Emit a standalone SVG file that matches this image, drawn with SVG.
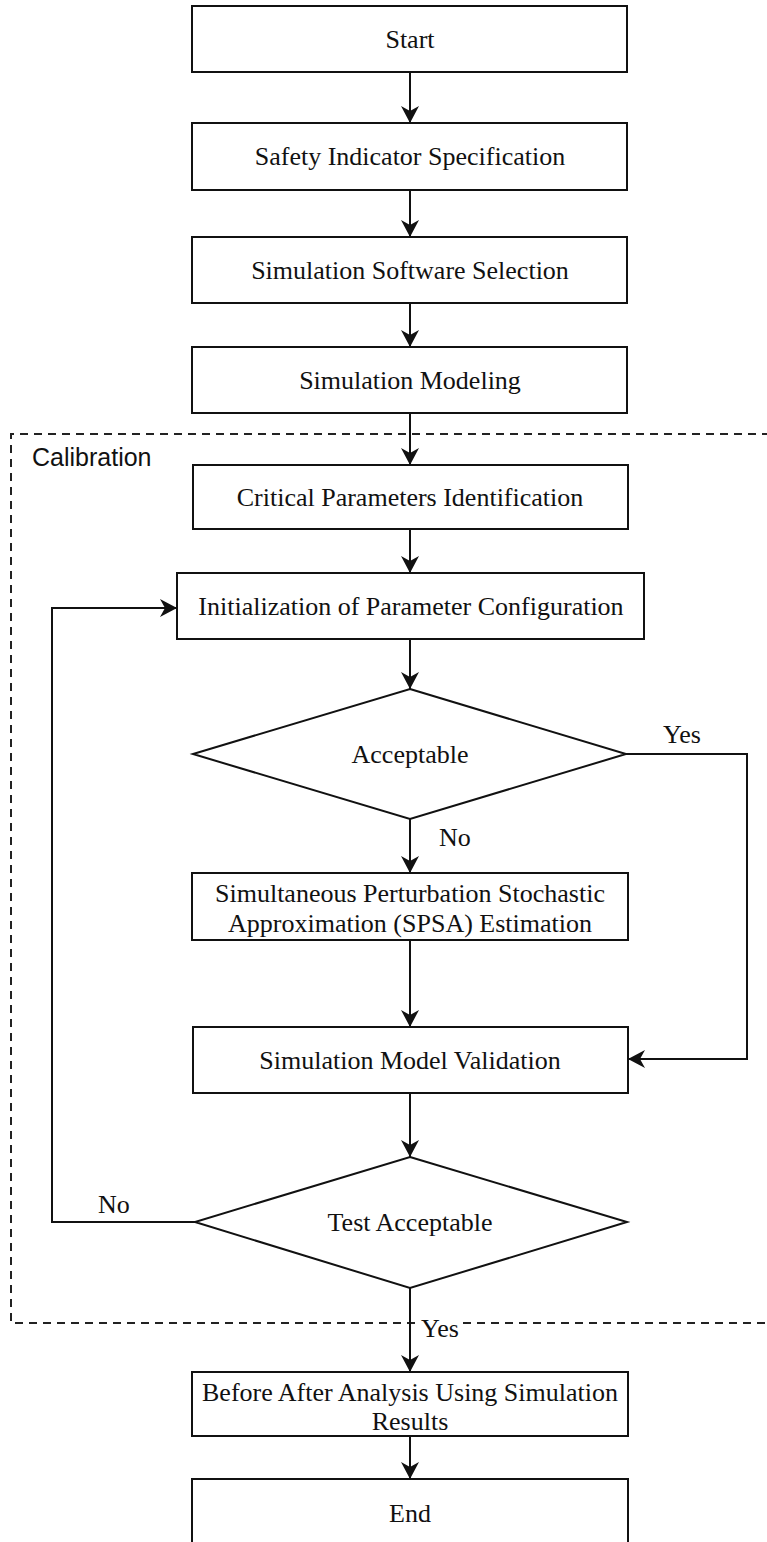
<svg xmlns="http://www.w3.org/2000/svg" width="767" height="1542" viewBox="0 0 767 1542">
  <style>
    .box { fill: #ffffff; stroke: #111111; stroke-width: 2; }
    .lbl { font-family: "Liberation Serif", "Times New Roman", serif; font-size: 26px; fill: #111111; text-anchor: middle; }
    .tag { font-family: "Liberation Serif", "Times New Roman", serif; font-size: 26px; fill: #111111; }
    .edge { fill: none; stroke: #111111; stroke-width: 2; }
    .group { fill: none; stroke: #222222; stroke-width: 2; stroke-dasharray: 8 6; }
    .grouplbl { font-family: "Liberation Sans", Arial, sans-serif; font-size: 25px; fill: #111111; }
  </style>
  <defs>
    <marker id="arrow" markerUnits="userSpaceOnUse" markerWidth="20" markerHeight="20" refX="17" refY="10" orient="auto">
      <path d="M17,10 L0,1 L5,10 L0,19 Z" fill="#111111"/>
    </marker>
  </defs>

  <rect width="767" height="1542" fill="#ffffff"/>

  <!-- calibration group frame -->
  <g id="calibration">
    <path class="group" d="M770,434 H11 V1323 H770"/>
    <text class="grouplbl" x="32" y="466">Calibration</text>
  </g>

  <!-- connectors -->
  <g id="connectors">
    <path class="edge" d="M410,72 V123" marker-end="url(#arrow)"/>
    <path class="edge" d="M410,190 V237" marker-end="url(#arrow)"/>
    <path class="edge" d="M410,303 V347" marker-end="url(#arrow)"/>
    <path class="edge" d="M410,413 V465" marker-end="url(#arrow)"/>
    <path class="edge" d="M410,529 V573" marker-end="url(#arrow)"/>
    <path class="edge" d="M410,639 V689" marker-end="url(#arrow)"/>
    <path class="edge" d="M410,819 V873" marker-end="url(#arrow)"/>
    <path class="edge" d="M626,754 H747 V1059 H628" marker-end="url(#arrow)"/>
    <path class="edge" d="M410,940 V1027" marker-end="url(#arrow)"/>
    <path class="edge" d="M410,1093 V1157" marker-end="url(#arrow)"/>
    <path class="edge" d="M195,1222 H52 V608 H177" marker-end="url(#arrow)"/>
    <path class="edge" d="M410,1288 V1372" marker-end="url(#arrow)"/>
    <path class="edge" d="M410,1436 V1479" marker-end="url(#arrow)"/>
    <text class="tag" x="663" y="743">Yes</text>
    <text class="tag" x="439" y="846">No</text>
    <text class="tag" x="98" y="1213">No</text>
    <rect x="419" y="1316" width="40" height="24" fill="#ffffff"/>
    <text class="tag" x="421" y="1337">Yes</text>
  </g>

  <g id="start">
    <rect class="box" x="192" y="6" width="435" height="66"/>
    <text class="lbl" x="410" y="48">Start</text>
  </g>

  <g id="safety-indicator">
    <rect class="box" x="192" y="123" width="435" height="67"/>
    <text class="lbl" x="410" y="165">Safety Indicator Specification</text>
  </g>

  <g id="software-selection">
    <rect class="box" x="192" y="237" width="435" height="66"/>
    <text class="lbl" x="410" y="279">Simulation Software Selection</text>
  </g>

  <g id="modeling">
    <rect class="box" x="192" y="347" width="435" height="66"/>
    <text class="lbl" x="410" y="389">Simulation Modeling</text>
  </g>

  <g id="critical-parameters">
    <rect class="box" x="193" y="465" width="435" height="64"/>
    <text class="lbl" x="410" y="506">Critical Parameters Identification</text>
  </g>

  <g id="initialization">
    <rect class="box" x="177" y="573" width="467" height="66"/>
    <text class="lbl" x="411" y="615">Initialization of Parameter Configuration</text>
  </g>

  <g id="acceptable">
    <polygon class="box" points="410,689 626,754 410,819 193,754"/>
    <text class="lbl" x="410" y="763">Acceptable</text>
  </g>

  <g id="spsa">
    <rect class="box" x="192" y="873" width="436" height="67"/>
    <text class="lbl" x="410" y="902">Simultaneous Perturbation Stochastic</text>
    <text class="lbl" x="410" y="932">Approximation (SPSA) Estimation</text>
  </g>

  <g id="validation">
    <rect class="box" x="193" y="1027" width="435" height="66"/>
    <text class="lbl" x="410" y="1069">Simulation Model Validation</text>
  </g>

  <g id="test-acceptable">
    <polygon class="box" points="410,1157 627,1222 410,1288 195,1222"/>
    <text class="lbl" x="410" y="1231">Test Acceptable</text>
  </g>

  <g id="before-after">
    <rect class="box" x="192" y="1372" width="436" height="64"/>
    <text class="lbl" x="410" y="1401">Before After Analysis Using Simulation</text>
    <text class="lbl" x="410" y="1430">Results</text>
  </g>

  <g id="end">
    <rect class="box" x="192" y="1479" width="436" height="70"/>
    <text class="lbl" x="410" y="1522">End</text>
  </g>
</svg>
